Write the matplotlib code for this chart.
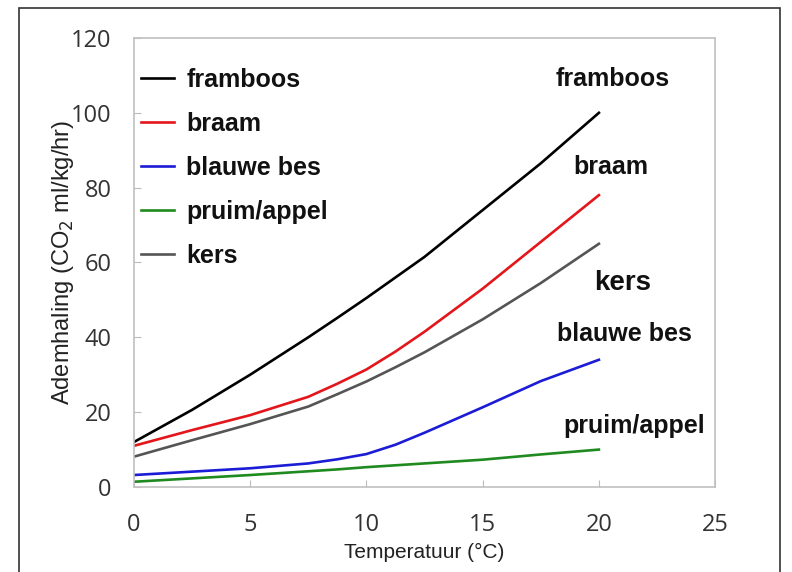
import matplotlib.pyplot as plt
import matplotlib.patches as patches
import numpy as np

temp = [0, 2.5, 5, 7.5, 8.75, 10, 11.25, 12.5, 15, 17.5, 20]
framboos = [12, 20.6, 30, 40, 45.2, 50.5, 56, 61.5, 74, 86.5, 100]
braam = [11, 15.2, 19.2, 24.1, 27.6, 31.4, 36.2, 41.5, 53, 65.5, 78]
blauwe_bes = [3.2, 4.1, 5.0, 6.3, 7.4, 8.8, 11.3, 14.5, 21.3, 28.3, 34]
pruim_appel = [1.4, 2.3, 3.2, 4.2, 4.7, 5.3, 5.8, 6.3, 7.3, 8.7, 10]
kers = [8.1, 12.5, 16.8, 21.5, 24.8, 28.2, 32, 36, 44.8, 54.5, 65]

series = [("framboos", framboos, "black"),
          ("braam", braam, "#e3161b"),
          ("blauwe bes", blauwe_bes, "#1c1cd6"),
          ("pruim/appel", pruim_appel, "#1f8a1f"),
          ("kers", kers, "#555555")]

# labels rechts van de lijnen (x, y in data)
end_labels = [("framboos", 20.6, 109, 18),
              ("braam", 20.5, 85.5, 18),
              ("kers", 21.0, 54.5, 20),
              ("blauwe bes", 21.1, 41, 18),
              ("pruim/appel", 21.5, 16.3, 18)]

fig = plt.figure(figsize=(7.92, 5.72), dpi=100)
ax = fig.add_axes([0.169, 0.1486, 0.734, 0.785])

for name, vals, col in series:
    ax.plot(temp, vals, color=col, lw=1.9, label=name,
            solid_joinstyle="round")

for txt, x, y, fs in end_labels:
    ax.text(x, y, txt, ha="center", va="center", fontsize=fs,
            fontweight="bold", family="Liberation Sans", color="#111111")

ax.set_xlim(0, 25)
ax.set_ylim(0, 120)
ax.set_xticks(np.arange(0, 26, 5))
ax.set_yticks(np.arange(0, 121, 20))
ax.tick_params(direction="in", length=5, color="#bbbbbb",
               labelsize=17, labelcolor="#333333")
ax.tick_params(axis="y", pad=16)
ax.tick_params(axis="x", pad=19)
for lab in ax.get_xticklabels() + ax.get_yticklabels():
    lab.set_family("Open Sans")
for sp in ax.spines.values():
    sp.set_color("#c0c0c0")
    sp.set_linewidth(1.2)

ax.set_xlabel("Temperatuur (°C)", fontsize=15, family="Liberation Sans",
              color="#222222", labelpad=4)
ax.set_ylabel("Ademhaling (CO$_2$ ml/kg/hr)", fontsize=17,
              family="Liberation Sans", color="#222222")
ax.yaxis.set_label_coords(-0.1, 0.5)

leg = ax.legend(loc="upper left", bbox_to_anchor=(0.0, 0.95), frameon=False,
                prop={"family": "Liberation Sans", "weight": "bold", "size": 18},
                handlelength=1.3, handletextpad=0.5, labelspacing=0.8,
                borderpad=0, borderaxespad=0.3)
for t in leg.get_texts():
    t.set_color("#111111")

# kader om de hele figuur
frame = patches.Rectangle((0.024, -0.02), 0.961, 1.006, transform=fig.transFigure,
                          fill=False, edgecolor="#333333", lw=1.2)
fig.add_artist(frame)

fig.savefig("out.png", dpi=100)
